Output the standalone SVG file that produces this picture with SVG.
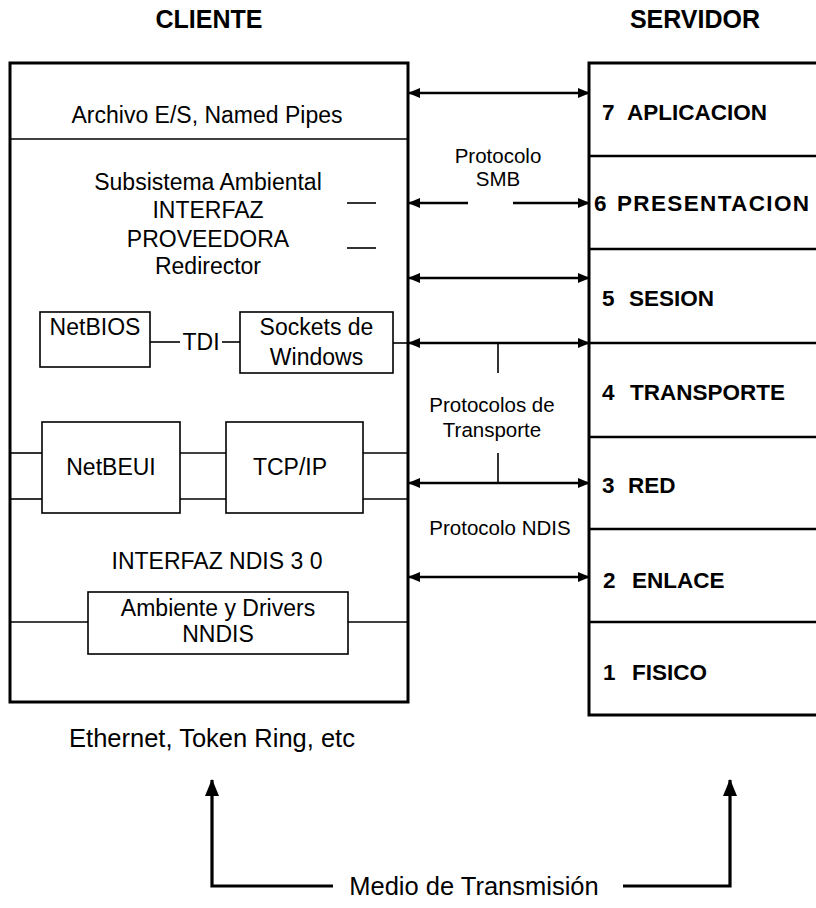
<svg xmlns="http://www.w3.org/2000/svg" width="816" height="908" viewBox="0 0 816 908">
  <style>
    text { font-family: "Liberation Sans", Arial, sans-serif; fill: #000; }
    .head { font-size: 25px; font-weight: bold; text-anchor: middle; }
    .lbl { font-size: 23px; text-anchor: middle; }
    .proto { font-size: 20.5px; text-anchor: middle; }
    .layer { font-size: 22.5px; font-weight: bold; }
    .base { font-size: 25.5px; text-anchor: middle; }
    .frame { fill: #fff; stroke: #000; stroke-width: 3; }
    .box { fill: #fff; stroke: #000; stroke-width: 1.6; }
    .thin { fill: none; stroke: #000; stroke-width: 1.6; }
    .div { fill: none; stroke: #000; stroke-width: 2.5; }
    .arrow { fill: none; stroke: #000; stroke-width: 2.5; marker-end: url(#ah); }
    .arrow2 { fill: none; stroke: #000; stroke-width: 2.5; marker-start: url(#ah); marker-end: url(#ah); }
    .media { fill: none; stroke: #000; stroke-width: 3.2; marker-end: url(#big); }
  </style>
  <defs>
    <marker id="ah" viewBox="0 0 12 10" refX="11" refY="5" markerWidth="12" markerHeight="10" markerUnits="userSpaceOnUse" orient="auto-start-reverse">
      <path d="M0,0 L12,5 L0,10 z" fill="#000"/>
    </marker>
    <marker id="big" viewBox="0 0 14 17" refX="7" refY="1" markerWidth="14" markerHeight="17" markerUnits="userSpaceOnUse" orient="0">
      <path d="M7,0 L14,17 L0,17 z" fill="#000"/>
    </marker>
  </defs>

  <!-- column headings -->
  <text class="head" x="209" y="28">CLIENTE</text>
  <text class="head" x="695" y="28">SERVIDOR</text>

  <!-- client stack -->
  <g id="cliente">
    <rect class="frame" x="10" y="63" width="398" height="639"/>
    <line class="thin" x1="10" y1="139" x2="408" y2="139"/>
    <text class="lbl" x="207" y="123">Archivo E/S, Named Pipes</text>
    <text class="lbl" x="208" y="190">Subsistema Ambiental</text>
    <text class="lbl" x="208" y="218">INTERFAZ</text>
    <text class="lbl" x="208" y="247">PROVEEDORA</text>
    <text class="lbl" x="208" y="274">Redirector</text>
    <line class="thin" x1="347" y1="203" x2="376" y2="203"/>
    <line class="thin" x1="347" y1="248" x2="376" y2="248"/>
    <text class="lbl" x="217" y="569">INTERFAZ NDIS 3 0</text>
  </g>

  <g id="netbios">
    <rect class="box" x="40" y="312" width="110" height="55"/>
    <text class="lbl" x="95" y="335">NetBIOS</text>
  </g>

  <g id="tdi">
    <line class="thin" x1="150" y1="342" x2="180" y2="342"/>
    <text class="lbl" x="201" y="350">TDI</text>
    <line class="thin" x1="222" y1="342" x2="240" y2="342"/>
  </g>

  <g id="sockets">
    <rect class="box" x="240" y="312" width="153" height="61"/>
    <text class="lbl" x="316.5" y="335">Sockets de</text>
    <text class="lbl" x="316.5" y="365">Windows</text>
    <line class="thin" x1="393" y1="343" x2="408" y2="343"/>
  </g>

  <g id="transporte-bus">
    <line class="thin" x1="10" y1="453" x2="42" y2="453"/>
    <line class="thin" x1="10" y1="499" x2="42" y2="499"/>
    <line class="thin" x1="180" y1="453" x2="226" y2="453"/>
    <line class="thin" x1="180" y1="499" x2="226" y2="499"/>
    <line class="thin" x1="363" y1="453" x2="408" y2="453"/>
    <line class="thin" x1="363" y1="499" x2="408" y2="499"/>
  </g>

  <g id="netbeui">
    <rect class="box" x="42" y="422" width="138" height="91"/>
    <text class="lbl" x="111" y="475">NetBEUI</text>
  </g>

  <g id="tcpip">
    <rect class="box" x="226" y="422" width="137" height="91"/>
    <text class="lbl" x="290" y="475">TCP/IP</text>
  </g>

  <g id="nndis">
    <line class="thin" x1="10" y1="622" x2="88" y2="622"/>
    <line class="thin" x1="348" y1="622" x2="408" y2="622"/>
    <rect class="box" x="88" y="592" width="260" height="62"/>
    <text class="lbl" x="218" y="616">Ambiente y Drivers</text>
    <text class="lbl" x="218" y="642">NNDIS</text>
  </g>

  <!-- server OSI stack -->
  <g id="servidor">
    <rect class="frame" x="589" y="63" width="240" height="652"/>
    <line class="div" x1="589" y1="156" x2="816" y2="156"/>
    <line class="div" x1="589" y1="249" x2="816" y2="249"/>
    <line class="div" x1="589" y1="343" x2="816" y2="343"/>
    <line class="div" x1="589" y1="437" x2="816" y2="437"/>
    <line class="div" x1="589" y1="529" x2="816" y2="529"/>
    <line class="div" x1="589" y1="622" x2="816" y2="622"/>
    <text class="layer" y="120"><tspan x="602">7</tspan><tspan x="627">APLICACION</tspan></text>
    <text class="layer" y="211"><tspan x="594">6</tspan><tspan x="617" textLength="192">PRESENTACION</tspan></text>
    <text class="layer" y="306"><tspan x="602">5</tspan><tspan x="629">SESION</tspan></text>
    <text class="layer" y="400"><tspan x="602">4</tspan><tspan x="630">TRANSPORTE</tspan></text>
    <text class="layer" y="493"><tspan x="602">3</tspan><tspan x="628">RED</tspan></text>
    <text class="layer" y="588"><tspan x="603">2</tspan><tspan x="632">ENLACE</tspan></text>
    <text class="layer" y="680"><tspan x="603">1</tspan><tspan x="632">FISICO</tspan></text>
  </g>

  <!-- peer protocol connectors -->
  <g id="connectors">
    <line class="arrow2" x1="409" y1="93" x2="589" y2="93"/>
    <line class="arrow" x1="468" y1="203" x2="409" y2="203"/>
    <line class="arrow" x1="513" y1="203" x2="589" y2="203"/>
    <line class="arrow2" x1="409" y1="278" x2="589" y2="278"/>
    <line class="arrow2" x1="409" y1="343" x2="589" y2="343"/>
    <line class="arrow2" x1="409" y1="483" x2="589" y2="483"/>
    <line class="arrow2" x1="409" y1="577" x2="589" y2="577"/>
    <line class="thin" x1="498" y1="343" x2="498" y2="373"/>
    <line class="thin" x1="498" y1="453" x2="498" y2="483"/>
    <path class="media" d="M333,886 H212 V780"/>
    <path class="media" d="M623,886 H730 V780"/>
  </g>

  <g id="protocolos">
    <text class="proto" x="498" y="163">Protocolo</text>
    <text class="proto" x="498" y="186">SMB</text>
    <text class="proto" x="492" y="412">Protocolos de</text>
    <text class="proto" x="492" y="437">Transporte</text>
    <text class="proto" x="500" y="535">Protocolo NDIS</text>
  </g>

  <g id="medio">
    <text class="base" x="212" y="747">Ethernet, Token Ring, etc</text>
    <text class="base" x="474" y="895">Medio de Transmisión</text>
  </g>
</svg>
